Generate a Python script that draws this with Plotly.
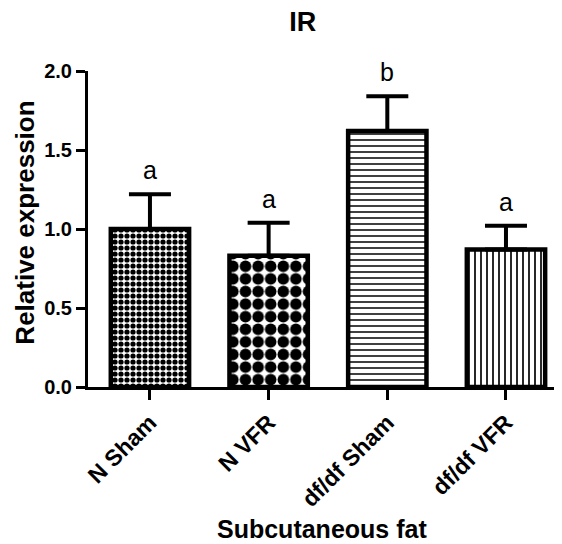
import plotly.graph_objects as go

categories = ["N Sham", "N VFR", "df/df Sham", "df/df VFR"]
means = [1.00, 0.83, 1.62, 0.87]
sem = [0.22, 0.21, 0.22, 0.15]
letters = ["a", "a", "b", "a"]
patterns = [".", ".", "-", "|"]
pattern_sizes = [6, 12.6, 6, 6]
pattern_solidity = [0.6, 0.66, 0.25, 0.28]

FONT = "Arial, Liberation Sans, sans-serif"

fig = go.Figure()
fig.add_trace(go.Bar(
    x=categories, y=means, width=0.66,
    marker=dict(
        color="white",
        line=dict(color="black", width=4.5),
        pattern=dict(shape=patterns, size=pattern_sizes, solidity=pattern_solidity,
                     fgcolor="black", bgcolor="white", fgopacity=1, fillmode="overlay"),
    ),
    error_y=dict(type="data", symmetric=False, array=sem, arrayminus=[0]*len(sem),
                 color="black", thickness=4, width=21),
    showlegend=False,
))

for c, m, s, t in zip(categories, means, sem, letters):
    fig.add_annotation(x=c, y=m + s, text=t, showarrow=False, yanchor="bottom",
                       yshift=8, font=dict(family=FONT, size=25, color="black"))

# axis titles
fig.add_annotation(text="<b>Relative expression</b>", xref="paper", yref="paper",
                   x=-0.133, y=0.52, xanchor="center", yanchor="middle", textangle=-90,
                   showarrow=False, font=dict(family=FONT, size=26, color="black"))
fig.add_annotation(text="<b>Subcutaneous fat</b>", xref="paper", yref="paper",
                   x=0.494, y=-0.449, xanchor="center", yanchor="middle",
                   showarrow=False, font=dict(family=FONT, size=25, color="black"))

fig.update_layout(
    template="none",
    width=554, height=536,
    margin=dict(l=80, r=0, t=63, b=157),
    plot_bgcolor="white", paper_bgcolor="white",
    title=dict(text="<b>IR</b>", x=0.532, xref="container", xanchor="center",
               y=0.974, yref="container", yanchor="middle",
               font=dict(family=FONT, size=27, color="black")),
    font=dict(family=FONT, color="black"),
)
fig.update_xaxes(
    range=[-0.522, 3.472], showline=True, linecolor="black", linewidth=3,
    ticks="outside", ticklen=10, tickwidth=3, tickcolor="black",
    tickangle=-45, tickfont=dict(family=FONT, size=23, color="black", weight="bold"),
    showgrid=False, zeroline=False, automargin=False,
)
fig.update_yaxes(
    range=[0, 2.0], tickvals=[0, 0.5, 1.0, 1.5, 2.0], tickformat=".1f",
    showline=True, linecolor="black", linewidth=3,
    ticks="outside", ticklen=9, tickwidth=3, tickcolor="black",
    tickfont=dict(family=FONT, size=20, color="black", weight="bold"),
    showgrid=False, zeroline=False, automargin=False,
)

fig.write_html("out.html")
